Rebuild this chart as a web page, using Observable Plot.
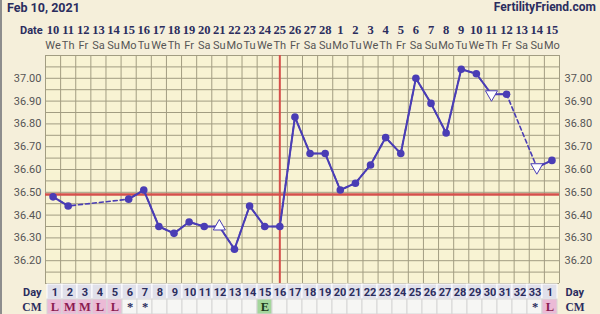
<!DOCTYPE html>
<html><head><meta charset="utf-8">
<script src="https://cdn.jsdelivr.net/npm/d3@7"></script>
<script src="https://cdn.jsdelivr.net/npm/@observablehq/plot@0.6"></script>
<style>
body{margin:0;background:#f5efda;}
#wrap{position:relative;width:600px;height:314px;overflow:hidden;background:#f5efda;}
#wrap svg{display:block;}
.hdr{position:absolute;font-family:Roboto,sans-serif;font-weight:bold;color:#2b2d5e;white-space:nowrap;}
#edge{position:absolute;left:0;top:0;width:2px;height:314px;background:#8d8d8d;}
</style></head><body>
<div id="wrap">
<div class="hdr" style="left:7px;top:0px;font-size:12.5px">Feb 10, 2021</div>
<div class="hdr" style="right:4px;top:0px;font-size:12px">FertilityFriend.com</div>
<div class="hdr" style="left:20px;top:24px;font-size:11px">Date</div>
<div id="edge"></div>
</div>
<script>
// ---- data ----
const positions = [1,2,3,4,5,6,7,8,9,10,11,12,13,14,15,16,17,18,19,20,21,22,23,24,25,26,27,28,29,30,31,32,33,34];
const dates = [10,11,12,13,14,15,16,17,18,19,20,21,22,23,24,25,26,27,28,1,2,3,4,5,6,7,8,9,10,11,12,13,14,15];
const weekdays = ["We","Th","Fr","Sa","Su","Mo","Tu","We","Th","Fr","Sa","Su","Mo","Tu","We","Th","Fr","Sa","Su","Mo","Tu","We","Th","Fr","Sa","Su","Mo","Tu","We","Th","Fr","Sa","Su","Mo"];
const dayLabels = ["1","2","3","4","5","6","7","8","9","10","11","12","13","14","15","16","17","18","19","20","21","22","23","24","25","26","27","28","29","30","31","32","33","1"];
const temps = [36.48,36.44,null,null,null,36.47,36.51,36.35,36.32,36.37,36.35,36.35,36.25,36.44,36.35,36.35,36.83,36.67,36.67,36.51,36.54,36.62,36.74,36.67,37.00,36.89,36.76,37.04,37.02,36.93,36.93,null,36.61,36.64];
const markerKinds = ["dot","dot","","","","dot","dot","dot","dot","dot","dot","up","dot","dot","dot","dot","dot","dot","dot","dot","dot","dot","dot","dot","dot","dot","dot","dot","dot","down","dot","","down","dot"];
const cm = ["L","M","M","L","L","*","*","","","","","","","","E","","","","","","","","","","","","","","","","","","*","L"];
const yLabelTicks = [36.2,36.3,36.4,36.5,36.6,36.7,36.8,36.9,37.0];
const yDomain = [36.1, 37.1];
const coverline = 36.49;
const ovulationDay = 16;

// ---- styles ----
const navy = "#2b2d5e";
const lineColor = "#4a3db5";
const red = "#d5504c";
const gridColor = "#a29d82";

const rows = temps.map((t,i)=>({pos:positions[i], temp: t==null?NaN:t, kind:markerKinds[i]}));
const defined = rows.filter(d=>!isNaN(d.temp));
const gridYTicks = d3.ticks(yDomain[0], yDomain[1], 20);
const gridXTicks = positions.map(p=>p-0.5).concat([positions[positions.length-1]+0.5]);

const main = Plot.plot({
  width:600, height:283,
  marginTop:55, marginBottom:0, marginLeft:45, marginRight:41,
  style:{background:"transparent", fontFamily:"Roboto, sans-serif", overflow:"visible"},
  x:{domain:[0.5,34.5], axis:null},
  y:{domain:yDomain, axis:null},
  marks:[
    Plot.frame({fill:"#f8f3d3", stroke:null}),
    Plot.gridY(gridYTicks, {stroke:gridColor, strokeOpacity:1, strokeWidth:1}),
    Plot.gridX(gridXTicks, {stroke:gridColor, strokeOpacity:1, strokeWidth:1}),
    Plot.axisY(yLabelTicks, {anchor:"left", tickSize:0, tickPadding:4, label:null, tickFormat:d=>d.toFixed(2), fill:"#555", fontSize:11}),
    Plot.axisY(yLabelTicks, {anchor:"right", tickSize:0, tickPadding:5, label:null, tickFormat:d=>d.toFixed(2), fill:"#555", fontSize:11}),
    Plot.axisX(positions, {anchor:"top", tickSize:0, tickPadding:22, label:null, tickFormat:p=>String(dates[p-1]), fill:navy, fontWeight:"bold", fontFamily:"Liberation Serif, serif", fontSize:12.5}),
    Plot.axisX(positions, {anchor:"top", tickSize:0, tickPadding:7, label:null, tickFormat:p=>weekdays[p-1], fill:"#555", fontSize:11}),
    Plot.ruleY([coverline], {stroke:red, strokeWidth:2.5}),
    Plot.ruleX([ovulationDay], {stroke:red, strokeWidth:2}),
    Plot.line(defined, {x:"pos", y:"temp", stroke:lineColor, strokeWidth:1.6, strokeDasharray:"4,3"}),
    Plot.line(rows, {x:"pos", y:"temp", stroke:lineColor, strokeWidth:2}),
    Plot.dot(rows.filter(d=>d.kind==="dot"), {x:"pos", y:"temp", r:3.8, fill:lineColor, stroke:null}),
    Plot.dot(rows.filter(d=>d.kind==="up"), {x:"pos", y:"temp", symbol:"triangle", r:4.5, fill:"white", stroke:lineColor, strokeWidth:1}),
    Plot.dot(rows.filter(d=>d.kind==="down"), {x:"pos", y:"temp", symbol:"triangle", rotate:180, r:4.5, fill:"white", stroke:lineColor, strokeWidth:1})
  ]
});

const dayRows = positions.map((p,i)=>({pos:p, row:"Day", label:dayLabels[i]}));
const cmRows = positions.map((p,i)=>({pos:p, row:"CM", label:cm[i]}));
const cmFill = l => (l==="L"||l==="M") ? "#ebbad6" : l==="E" ? "#a4d69c" : "#f6f6f4";
const cmText = l => (l==="L"||l==="M") ? "#8a1c50" : l==="E" ? "#1d3b1d" : navy;

const bottom = Plot.plot({
  width:600, height:31,
  marginTop:0, marginBottom:0, marginLeft:45, marginRight:41,
  style:{background:"transparent", fontFamily:"Roboto, sans-serif", overflow:"visible"},
  x:{type:"band", domain:positions, padding:0, axis:null},
  y:{domain:["Day","CM"], padding:0, axis:null},
  color:{type:"identity"},
  marks:[
    Plot.cell(dayRows, {x:"pos", y:"row", fill:"#e0e0ea", stroke:"#ffffff", strokeWidth:1}),
    Plot.cell(cmRows, {x:"pos", y:"row", fill:d=>cmFill(d.label), stroke:"#d6d6d6", strokeWidth:1}),
    Plot.text(dayRows, {x:"pos", y:"row", text:"label", fill:navy, fontWeight:"bold", fontSize:11}),
    Plot.text(cmRows, {x:"pos", y:"row", text:"label", fill:d=>cmText(d.label), fontWeight:"bold", fontFamily:"Liberation Serif, serif", fontSize:12.5}),
    Plot.axisY(["Day"], {anchor:"left", tickSize:0, tickPadding:4, label:null, fill:navy, fontWeight:"bold", fontSize:11}),
    Plot.axisY(["CM"], {anchor:"left", tickSize:0, tickPadding:4, label:null, fill:navy, fontWeight:"bold", fontFamily:"Liberation Serif, serif", fontSize:11.5}),
    Plot.axisY(["Day"], {anchor:"right", tickSize:0, tickPadding:6, label:null, fill:navy, fontWeight:"bold", fontSize:11}),
    Plot.axisY(["CM"], {anchor:"right", tickSize:0, tickPadding:6, label:null, fill:navy, fontWeight:"bold", fontFamily:"Liberation Serif, serif", fontSize:11.5})
  ]
});

const wrap = document.getElementById("wrap");
wrap.insertBefore(main, wrap.firstChild);
wrap.insertBefore(bottom, main.nextSibling);
</script>
</body></html>
